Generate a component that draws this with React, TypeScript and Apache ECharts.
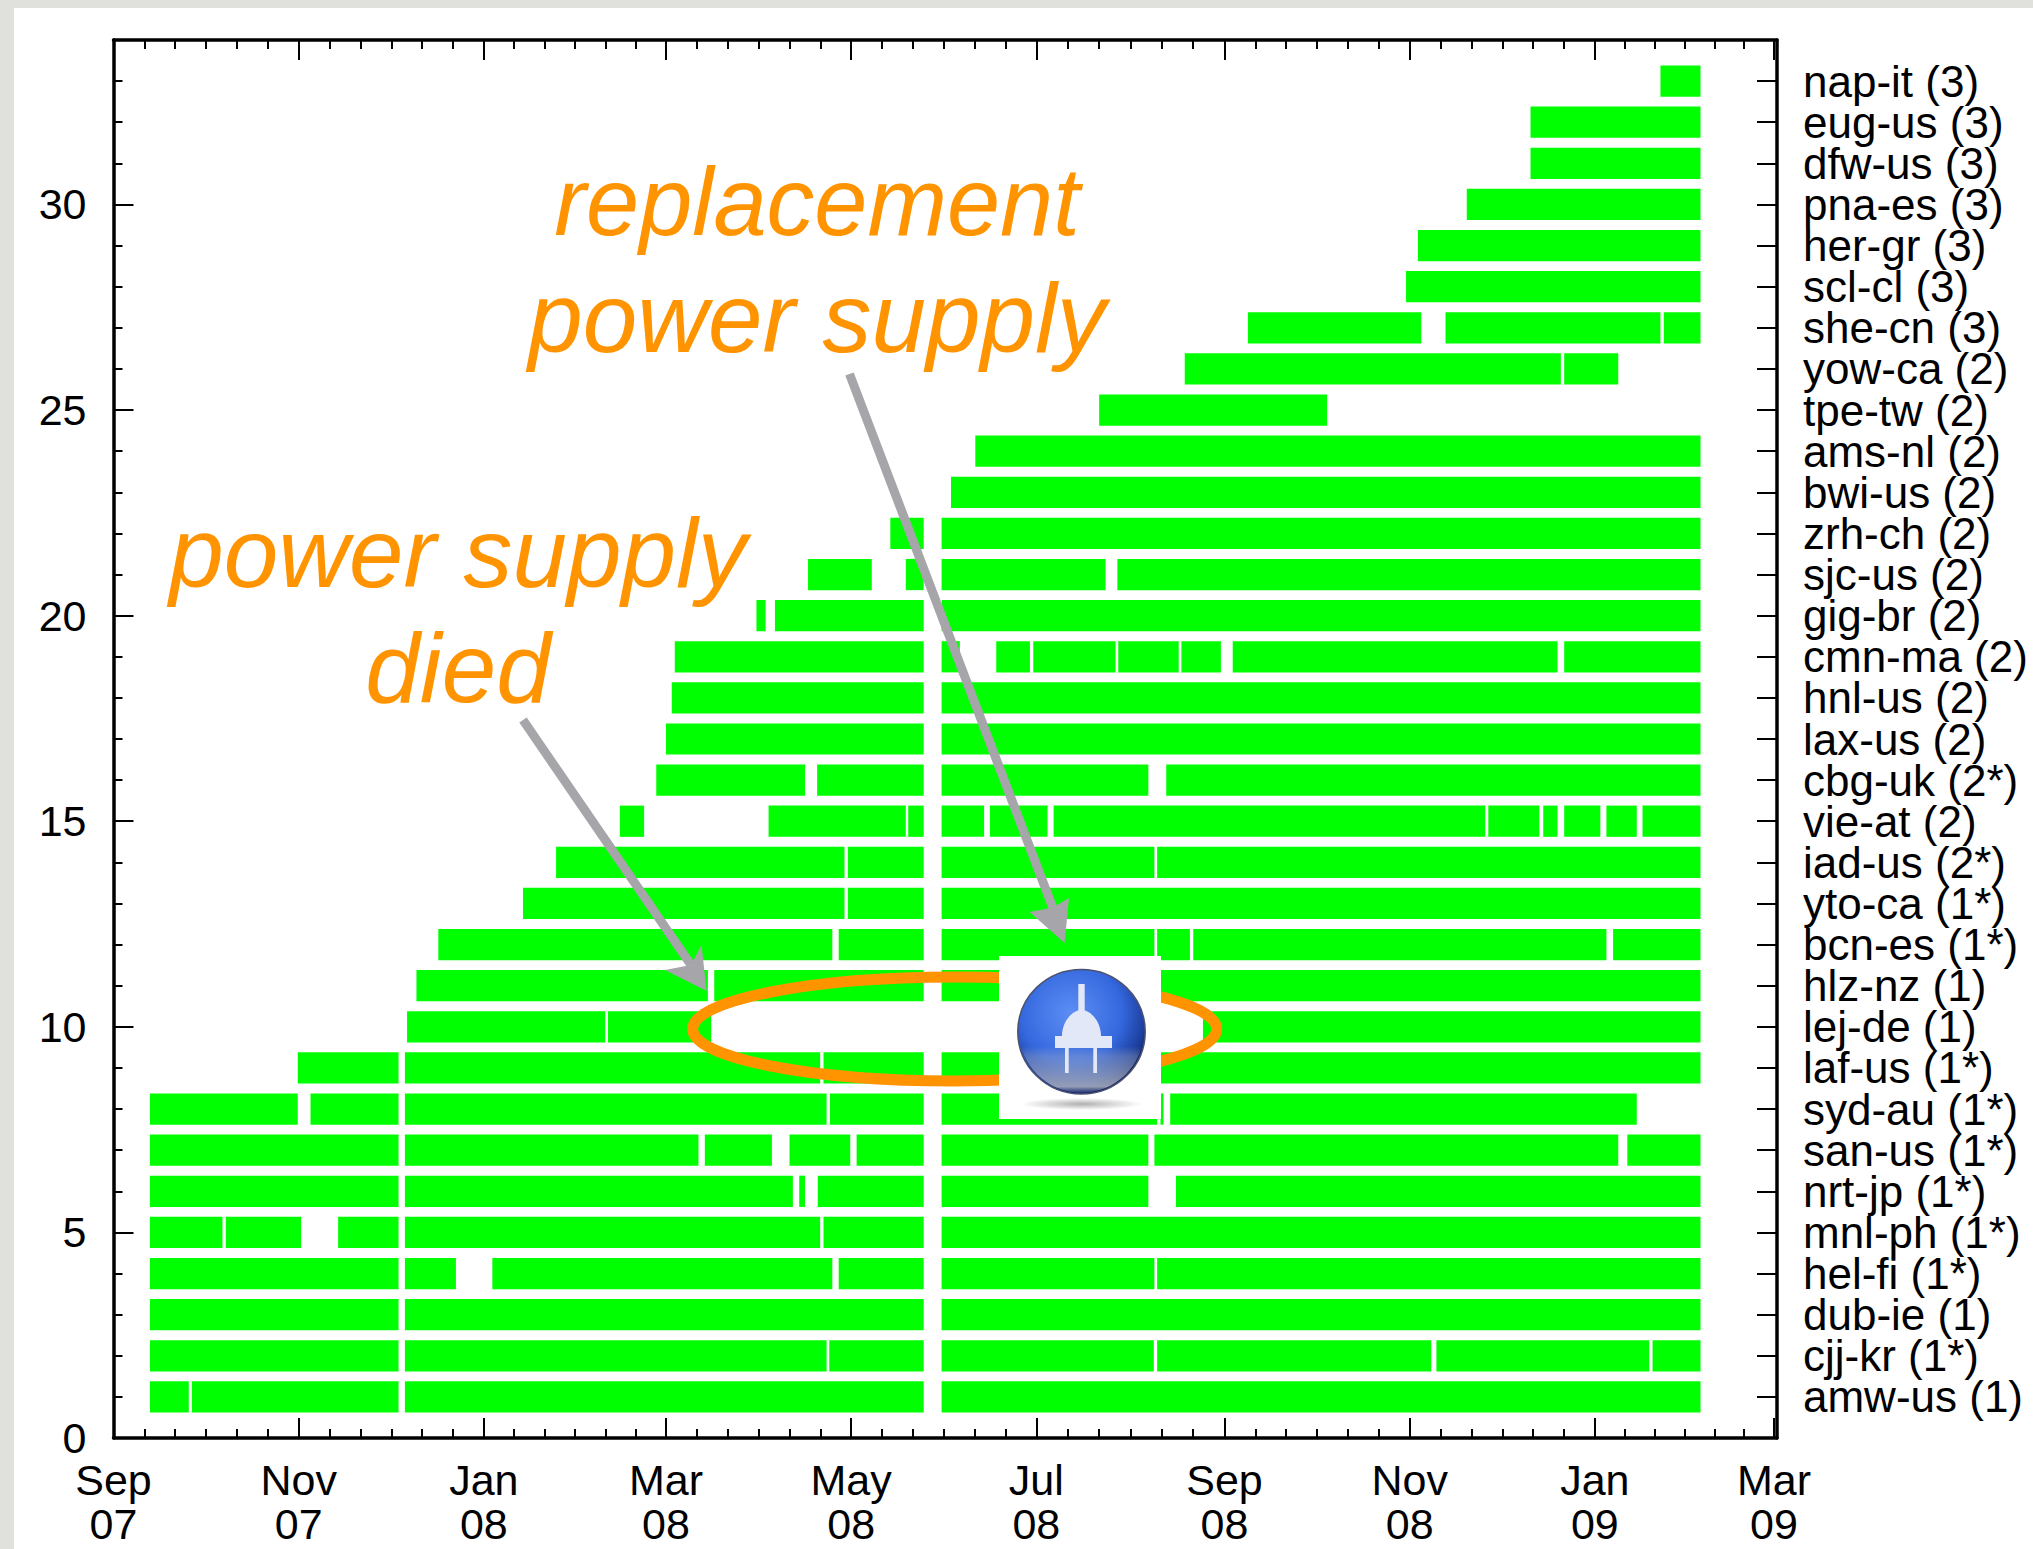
import React, { useEffect, useRef } from "react";
import * as echarts from "echarts";

// x values are days since 1 Sep 2007, y values are the row number (1 = bottom row)
const siteNames = [
  "amw-us (1)", "cjj-kr (1*)", "dub-ie (1)", "hel-fi (1*)", "mnl-ph (1*)", "nrt-jp (1*)", "san-us (1*)",
  "syd-au (1*)", "laf-us (1*)", "lej-de (1)", "hlz-nz (1)", "bcn-es (1*)", "yto-ca (1*)", "iad-us (2*)",
  "vie-at (2)", "cbg-uk (2*)", "lax-us (2)", "hnl-us (2)", "cmn-ma (2)", "gig-br (2)", "sjc-us (2)",
  "zrh-ch (2)", "bwi-us (2)", "ams-nl (2)", "tpe-tw (2)", "yow-ca (2)", "she-cn (3)", "scl-cl (3)",
  "her-gr (3)", "pna-es (3)", "dfw-us (3)", "eug-us (3)", "nap-it (3)",
];

const siteSpans: number[][][] = [
  [[12, 24.8], [25.8, 93.9], [96, 266.9], [272.8, 522.8]],
  [[12, 93.9], [96, 234.9], [235.8, 266.9], [272.8, 342.7], [343.8, 434.1], [435.8, 505.9], [507, 522.8]],
  [[12, 93.9], [96, 266.9], [272.8, 522.8]],
  [[12, 93.9], [96, 112.8], [124.8, 236.8], [238.9, 266.9], [272.8, 342.9], [343.8, 522.8]],
  [[12, 35.9], [37, 61.8], [74, 93.9], [96, 232.8], [233.9, 266.9], [272.8, 522.8]],
  [[12, 93.9], [96, 223.8], [225.9, 227.8], [232, 266.9], [272.8, 340.9], [350, 522.8]],
  [[12, 93.9], [96, 192.7], [194.8, 216.9], [222.7, 242.7], [244.8, 266.9], [272.8, 340.9], [342.9, 495.7], [498.7, 522.8]],
  [[12, 60.7], [64.9, 93.9], [96, 234.9], [236, 266.9], [272.8, 343.8], [344.9, 345.9], [348.1, 501.8]],
  [[60.7, 93.9], [96, 232.8], [233.9, 266.9], [272.8, 522.8]],
  [[96.7, 162], [162.9, 196.9], [358.9, 522.8]],
  [[99.8, 195.8], [197.9, 266.9], [272.8, 522.8]],
  [[107, 236.8], [238.9, 266.9], [272.8, 342.9], [343.8, 354.6], [355.7, 491.8], [494, 522.8]],
  [[134.9, 240.8], [241.9, 266.9], [272.8, 522.8]],
  [[145.8, 240.8], [241.9, 266.9], [272.8, 342.9], [343.8, 522.8]],
  [[166.8, 174.8], [215.8, 261], [261.8, 266.9], [272.8, 286.8], [288.7, 307.7], [309.7, 451.9], [452.9, 469.7], [471, 475.7], [477.9, 489.8], [491.8, 501.8], [503.7, 522.8]],
  [[178.8, 227.8], [231.8, 266.9], [272.8, 340.9], [346.8, 522.8]],
  [[182, 266.9], [272.8, 522.8]],
  [[183.9, 266.9], [272.8, 522.8]],
  [[184.9, 266.9], [272.8, 278.8], [290.8, 301.9], [303, 330.1], [331, 350.9], [351.8, 364.8], [368.7, 475.7], [477.9, 522.8]],
  [[211.8, 214.8], [217.9, 266.9], [272.8, 522.8]],
  [[228.8, 249.8], [261, 266.9], [272.8, 326.8], [330.7, 522.8]],
  [[255.9, 266.9], [272.8, 522.8]],
  [[275.9, 522.8]],
  [[283.9, 522.8]],
  [[324.7, 399.8]],
  [[352.9, 476.8], [477.9, 495.7]],
  [[373.7, 430.8], [438.8, 509.6], [510.7, 522.8]],
  [[425.8, 522.8]],
  [[429.7, 522.8]],
  [[445.8, 522.8]],
  [[466.8, 522.8]],
  [[466.8, 522.8]],
  [[509.6, 522.8]],
];

const xMax = 548;
const yMax = 34;
const monthDays = [0, 61, 122, 182, 243, 304, 366, 427, 488, 547];
const monthLabels = ["Sep\n07", "Nov\n07", "Jan\n08", "Mar\n08", "May\n08", "Jul\n08", "Sep\n08", "Nov\n08", "Jan\n09", "Mar\n09"];
const yLabelValues = [0, 5, 10, 15, 20, 25, 30];
const rowValues = siteNames.map((_, i) => i + 1);
const minorXDays = monthDays.slice(0, -1).flatMap((d, i) =>
  [1, 2, 3, 4, 5].map((k) => d + ((monthDays[i + 1] - d) * k) / 6)
);
const minorYValues = rowValues.filter((v) => v % 5 !== 0);

const FONT = '"Liberation Sans"';
const ORANGE = "#ff9400";
const ARROW = "#a5a5aa";

echarts.graphic.registerShape(
  "plugBody",
  echarts.graphic.extendPath(
    "M1062 1036 C1062 1022 1072 1010 1081.5 1010 C1091 1010 1101 1022 1101 1036 L1104 1036 L1112 1036 L1112 1048 L1055 1048 L1055 1036 Z",
    {}
  )
);

const spanData = siteSpans.flatMap((spans, i) => spans.map(([s, e]) => [s, e, i + 1]));

const renderSpan = (_: any, api: any) => {
  const a = api.coord([api.value(0), api.value(2)]);
  const b = api.coord([api.value(1), api.value(2)]);
  const h = api.size([0, 0.76])[1];
  return {
    type: "rect",
    shape: { x: a[0], y: a[1] - h / 2, width: b[0] - a[0], height: h },
    style: { fill: "#00ff00" },
  };
};

const xAxisBase = { type: "value", min: 0, max: xMax, splitLine: { show: false }, minorTick: { show: false } };
const yAxisBase = { type: "value", min: 0, max: yMax, splitLine: { show: false }, minorTick: { show: false } };
const frame = { show: true, onZero: false, lineStyle: { color: "#000", width: 3.5 } };
const noLine = { show: false, onZero: false };
const tick = (values: number[], length: number) => ({
  show: true, inside: true, length, customValues: values, lineStyle: { color: "#000", width: 2 },
});
const noLabel = { show: false };

const arrow = (from: number[], neck: number[], tip: number[], b1: number[], b2: number[]) => [
  { type: "polyline", z: 50, shape: { points: [from, neck] }, style: { stroke: ARROW, lineWidth: 9, fill: "none" } },
  { type: "polygon", z: 50, shape: { points: [tip, b1, neck, b2] }, style: { fill: ARROW } },
];
const note = (text: string, x: number, y: number, size: number) => ({
  type: "text", z: 60, x, y,
  style: { text, font: `italic ${size}px ${FONT}`, fill: ORANGE, textAlign: "center", textVerticalAlign: "middle" },
});

const option: any = {
  animation: false,
  backgroundColor: "#e0e0dc",
  grid: { left: 113.5, right: 256, top: 40, bottom: 111, containLabel: false },
  xAxis: [
    {
      ...xAxisBase, position: "bottom", axisLine: frame, axisTick: tick(monthDays, 20),
      axisLabel: {
        show: true, customValues: monthDays, margin: 20, color: "#000", fontFamily: FONT, fontSize: 43, lineHeight: 44,
        showMinLabel: true, showMaxLabel: true, hideOverlap: false,
        formatter: (v: number) => monthLabels[monthDays.indexOf(v)] ?? "",
      },
    },
    { ...xAxisBase, position: "top", axisLine: frame, axisTick: tick(monthDays, 20), axisLabel: noLabel },
    { ...xAxisBase, position: "bottom", axisLine: noLine, axisTick: tick(minorXDays, 9), axisLabel: noLabel },
    { ...xAxisBase, position: "top", axisLine: noLine, axisTick: tick(minorXDays, 9), axisLabel: noLabel },
  ],
  yAxis: [
    {
      ...yAxisBase, position: "left", axisLine: frame, axisTick: tick(yLabelValues, 20),
      axisLabel: {
        show: true, customValues: yLabelValues, margin: 27, color: "#000", fontFamily: FONT, fontSize: 43,
        showMinLabel: true, showMaxLabel: true,
      },
    },
    { ...yAxisBase, position: "left", axisLine: noLine, axisTick: tick(minorYValues, 9), axisLabel: noLabel },
    {
      ...yAxisBase, position: "right", axisLine: frame, axisTick: tick(rowValues, 20),
      axisLabel: {
        show: true, customValues: [0, ...rowValues, yMax], margin: 26, color: "#000", fontFamily: FONT, fontSize: 44, lineHeight: 39,
        hideOverlap: false, align: "left",
        formatter: (v: number) => siteNames[v - 1] ?? " ",
      },
    },
  ],
  series: [
    {
      type: "custom", xAxisIndex: 0, yAxisIndex: 0, renderItem: renderSpan, data: spanData,
      encode: { x: [0, 1], y: 2 }, clip: false, silent: true, z: 2,
    },
  ],
  graphic: [
    { type: "rect", z: -1, shape: { x: 14, y: 8, width: 2019, height: 1541 }, style: { fill: "#fff" } },
    { type: "ellipse", z: 40, shape: { cx: 954.7, cy: 1029, rx: 262, ry: 52 }, style: { fill: "none", stroke: ORANGE, lineWidth: 11 } },
    ...arrow([523, 720], [691, 965], [706.6, 991], [701.5, 945], [665, 970]),
    ...arrow([849.5, 374], [1052.7, 907.5], [1064.6, 943], [1069, 898], [1029.6, 912]),
    note("replacement", 817, 201.5, 95.5),
    note("power supply", 817, 317.5, 98),
    note("power supply", 458, 552.5, 98),
    note("died", 458, 667.5, 98),
    { type: "rect", z: 70, shape: { x: 999, y: 956, width: 162, height: 163 }, style: { fill: "#fff" } },
    {
      type: "ellipse", z: 71, shape: { cx: 1081.5, cy: 1104, rx: 61, ry: 6 },
      style: { fill: { type: "radial", x: 0.5, y: 0.5, r: 0.5, colorStops: [{ offset: 0, color: "#b0b0b0" }, { offset: 1, color: "#ffffff" }] } },
    },
    {
      type: "ellipse", z: 72, shape: { cx: 1081.5, cy: 1031.7, rx: 63.7, ry: 62.3 },
      style: {
        stroke: "#4a5270", lineWidth: 1.5,
        fill: { type: "radial", x: 0.42, y: 0.35, r: 0.66, colorStops: [{ offset: 0, color: "#5d8ef5" }, { offset: 0.6, color: "#3568de" }, { offset: 0.88, color: "#1c3f9e" }, { offset: 1, color: "#0d1f60" }] },
      },
    },
    {
      type: "ellipse", z: 73, shape: { cx: 1081.5, cy: 1031.7, rx: 62, ry: 61 },
      style: {
        fill: { type: "linear", x: 0, y: 0, x2: 0, y2: 1, colorStops: [
          { offset: 0, color: "rgba(170,180,200,0)" }, { offset: 0.62, color: "rgba(170,180,200,0)" },
          { offset: 0.7, color: "rgba(170,180,200,0.35)" }, { offset: 0.95, color: "rgba(170,175,190,0.85)" }, { offset: 1, color: "rgba(60,70,120,0.6)" },
        ] },
      },
    },
    { type: "rect", z: 74, shape: { x: 1078.3, y: 984, width: 6.4, height: 28 }, style: { fill: "#e2e8f8" } },
    { type: "plugBody", z: 74, x: 0, y: 0, style: { fill: "#e2e8f8" } },
    { type: "rect", z: 74, shape: { x: 1065, y: 1047, width: 3.7, height: 26 }, style: { fill: "#e2e8f8" } },
    { type: "rect", z: 74, shape: { x: 1093.3, y: 1047, width: 3.7, height: 26 }, style: { fill: "#e2e8f8" } },
  ],
};

export default function App() {
  const ref = useRef<HTMLDivElement>(null);
  useEffect(() => {
    const chart = echarts.init(ref.current!, undefined, { renderer: "svg" });
    chart.setOption(option);
    return () => chart.dispose();
  }, []);
  return <div ref={ref} style={{ position: "absolute", left: 0, top: 0, width: 2033, height: 1549 }} />;
}
